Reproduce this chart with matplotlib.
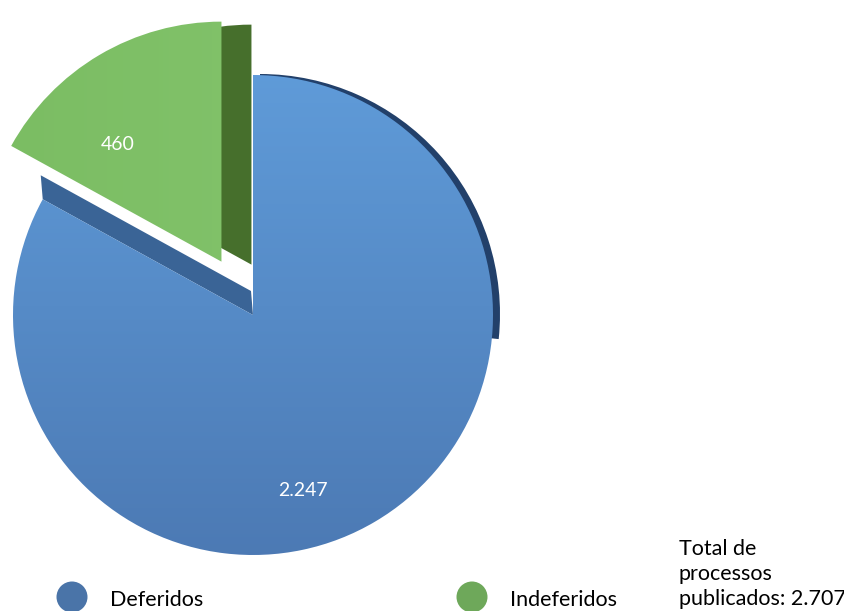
import numpy as np
import matplotlib.pyplot as plt
from matplotlib.colors import LinearSegmentedColormap
from matplotlib.patches import Polygon, Circle, Wedge

plt.rcParams["font.family"] = ["Lato", "DejaVu Sans"]

# processos publicados
CATEGORIES = ["Indeferidos", "Deferidos"]
VALUES = [460, 2247]
TOTAL = sum(VALUES)

W, H = 845, 611
CENTER = (253, 296)       # pie centre, pixel units (y up)
RADIUS = 240
EXPLODE = [62, 0]         # pie() takes the offset in data units

TOP_COLORS = {"Deferidos": ("#4a76b0", "#62a0de"), "Indeferidos": ("#7bbd63", "#8fcd78")}
SIDE_COLORS = {"Deferidos": "#3a6496", "Indeferidos": "#466f2c"}
RIM_COLOR = "#22406a"
LEGEND_COLORS = {"Deferidos": "#4a74a8", "Indeferidos": "#6ea85a"}


def fmt(v):
    return f"{v:,}".replace(",", ".")


def gradient_fill(ax, wedge, c0, c1, vertical=True):
    cmap = LinearSegmentedColormap.from_list("g", [c0, c1])
    g = np.linspace(0, 1, 256)
    img = g[:, None] if vertical else g[None, :]
    im = ax.imshow(img, cmap=cmap, extent=(0, W, 0, H), origin="lower",
                   aspect="auto", zorder=wedge.get_zorder(), interpolation="bilinear")
    im.set_clip_path(wedge)


fig = plt.figure(figsize=(W / 100, H / 100), dpi=100)
ax = fig.add_axes([0, 0, 1, 1])

# depth of the small slice: dark copy shifted right
shadow, _ = ax.pie(VALUES, startangle=90, radius=RADIUS, explode=EXPLODE,
                   center=(CENTER[0] + 30, CENTER[1] - 3), colors=[SIDE_COLORS["Indeferidos"]] * 2,
                   wedgeprops=dict(linewidth=0, zorder=1))
shadow[1].set_visible(False)

# top faces
wedges, _ = ax.pie(VALUES, startangle=90, radius=RADIUS, explode=EXPLODE,
                   center=CENTER, colors=["none", "none"],
                   wedgeprops=dict(linewidth=0, zorder=3))
for w, name in zip(wedges, CATEGORIES):
    c0, c1 = TOP_COLORS[name]
    gradient_fill(ax, w, c0, c1, vertical=(name == "Deferidos"))

blue = wedges[1]
vx, vy = blue.center

# dark rim on the upper right of the large slice, tapering towards the top
ax.add_patch(Wedge((vx + 7, vy + 1), RADIUS, -6, 90, facecolor=RIM_COLOR,
                   edgecolor="none", zorder=1))

# cut face of the large slice, along its starting edge
t = np.deg2rad(blue.theta1)
px, py = vx + RADIUS * np.cos(t), vy + RADIUS * np.sin(t)
ex, ey = -2, 24
ax.add_patch(Polygon([(vx, vy), (px, py), (px + ex, py + ey), (vx + ex, vy + ey)],
                     closed=True, facecolor=SIDE_COLORS["Deferidos"], edgecolor="none", zorder=2))

# value labels
ax.text(118, H - 145, fmt(VALUES[0]), color="white", fontsize=14, ha="center", va="center", zorder=5)
ax.text(303, H - 490, fmt(VALUES[1]), color="white", fontsize=14, ha="center", va="center", zorder=5)

# legend
for x, name in [(72, "Deferidos"), (472, "Indeferidos")]:
    ax.add_patch(Circle((x, H - 597), 15.5, facecolor=LEGEND_COLORS[name], edgecolor="none", zorder=4))
    ax.text(x + 38, H - 600, name, fontsize=15.5, ha="left", va="center", color="black")

ax.text(679, 2, f"Total de\nprocessos\npublicados: {fmt(TOTAL)}", fontsize=15.5,
        ha="left", va="bottom", linespacing=1.32, color="black")

ax.set_xlim(0, W)
ax.set_ylim(0, H)
ax.set_aspect("auto")
ax.axis("off")

fig.savefig("out.png", dpi=100)
